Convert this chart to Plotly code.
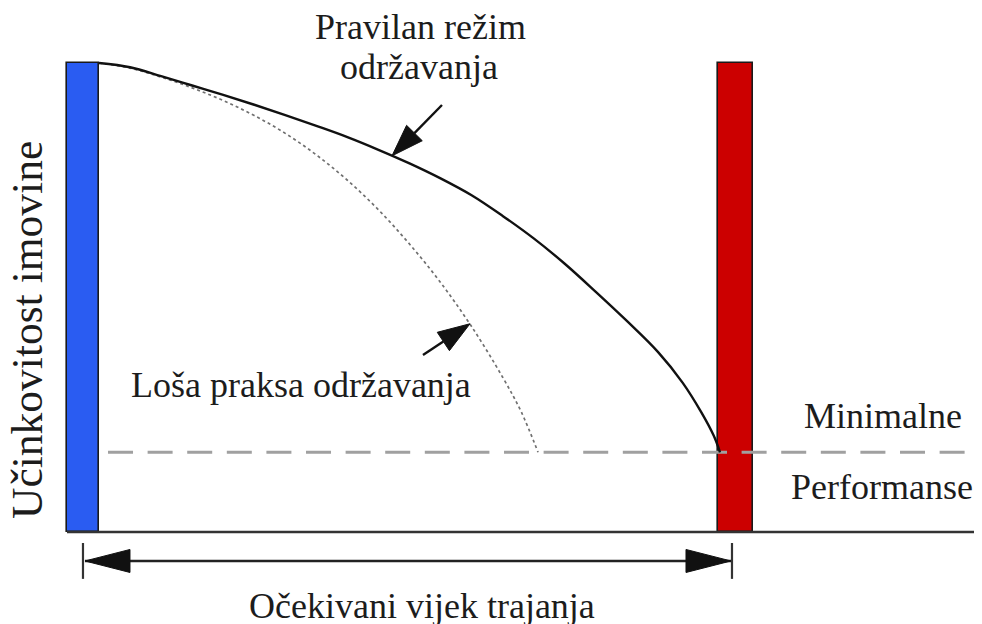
import math
import plotly.graph_objects as go

# ---------------- data (schematic units: time 0..100 = expected life, performance 0..100) ----------
good_t = [0, 5, 10, 15, 20, 25, 30, 35, 40, 45, 50, 55, 60, 65, 70, 75, 80, 85, 90, 94, 97, 99, 100]
good_p = [100, 99.1, 97.2, 95.2, 93.2, 91.1, 88.9, 86.6, 84.2, 81.5, 78.6, 75.4, 71.8,
          67.4, 62.6, 57.2, 51.2, 45.0, 38.4, 31.8, 25.5, 20.5, 17.0]

poor_t = [0, 5, 10, 15, 20, 25, 30, 35, 40, 45, 50, 55, 60, 65, 68, 70.7]
poor_p = [100, 98.9, 97.0, 94.7, 92.0, 88.8, 85.0, 80.4, 75.0, 68.7, 61.4, 53.2, 43.8, 33.0, 25.6, 17.0]

bar_x = [-2.58, 102.5]          # start of life (blue), end of life (red)
bar_w = [5.15, 5.6]
bar_h = [100, 100]
bar_colors = ["#2a5cf2", "#cc0000"]

min_perf = 17.0
life_start, life_end = -2.58, 101.93   # dimension-line ticks
dim_p = -6.18

labels_text = ["Pravilan režim", "održavanja", "Loša praksa održavanja",
               "Minimalne", "Performanse", "Očekivani vijek trajanja"]
labels_t = [51.85, 51.53, 32.53, 126.25, 126.09, 52.01]
labels_p = [107.7, 99.2, 31.3, 24.7, 9.6, -15.8]

# annotation arrows: (tail_t, tail_p, tip_t, tip_p)
arrows = [(55.23, 91.04, 47.18, 80.2), (52.17, 37.74, 59.74, 44.4)]

# ---------------- layout geometry (page body has an 8px margin) ----------------
W, H = 974, 616
XR = [-14.654, 142.19]
YR = [-19.62, 111.73]
PXX = W / (XR[1] - XR[0])
PXY = H / (YR[1] - YR[0])

FONT = "Liberation Serif"
INK = "#111111"

fig = go.Figure()

# bars
fig.add_trace(go.Bar(x=bar_x, y=bar_h, width=bar_w, base=0,
                     marker=dict(color=bar_colors, line=dict(color="#1a1a1a", width=1.6)),
                     hoverinfo="skip", showlegend=False))

# baseline
fig.add_trace(go.Scatter(x=[bar_x[0] - bar_w[0] / 2, XR[1]], y=[0, 0], mode="lines",
                         line=dict(color="#333333", width=2.4), hoverinfo="skip", showlegend=False))

# min performance dashed line
fig.add_trace(go.Scatter(x=[1.45, XR[1]], y=[min_perf, min_perf], mode="lines",
                         line=dict(color="#a0a0a0", width=3.2, dash="25px,14.6px"),
                         hoverinfo="skip", showlegend=False))

# curves
fig.add_trace(go.Scatter(x=poor_t, y=poor_p, mode="lines", line_shape="spline",
                         line=dict(color="#707070", width=1.7, dash="dot"),
                         hoverinfo="skip", showlegend=False))
fig.add_trace(go.Scatter(x=good_t, y=good_p, mode="lines", line_shape="spline",
                         line=dict(color=INK, width=2.4),
                         hoverinfo="skip", showlegend=False))


def head(tip_t, tip_p, from_t, from_p, length, half):
    # triangle in data coords, sized in pixels
    dx = (tip_t - from_t) * PXX
    dy = (tip_p - from_p) * PXY
    n = math.hypot(dx, dy)
    ux, uy = dx / n, dy / n
    bx, by = -ux * length, -uy * length
    px_, py_ = -uy * half, ux * half
    pts = [(0, 0), (bx + px_, by + py_), (bx - px_, by - py_), (0, 0)]
    xs = [tip_t + a / PXX for a, b in pts]
    ys = [tip_p + b / PXY for a, b in pts]
    return xs, ys, (tip_t + bx / PXX, tip_p + by / PXY)


def add_arrow(tail_t, tail_p, tip_t, tip_p, length, half, width):
    xs, ys, base = head(tip_t, tip_p, tail_t, tail_p, length, half)
    fig.add_trace(go.Scatter(x=[tail_t, base[0]], y=[tail_p, base[1]], mode="lines",
                             line=dict(color=INK, width=width), hoverinfo="skip", showlegend=False))
    fig.add_trace(go.Scatter(x=xs, y=ys, mode="lines", fill="toself", fillcolor=INK,
                             line=dict(color=INK, width=1), hoverinfo="skip", showlegend=False))


for a in arrows:
    add_arrow(*a, length=32, half=11, width=2.4)

# dimension line (expected life)
mid = (life_start + life_end) / 2
tipL = life_start + 2 / PXX
tipR = life_end - 1 / PXX
fig.add_trace(go.Scatter(x=[tipL, tipR], y=[dim_p, dim_p], mode="lines",
                         line=dict(color="#222222", width=2.4), hoverinfo="skip", showlegend=False))
for tip in (tipL, tipR):
    xs, ys, _ = head(tip, dim_p, mid, dim_p, 45, 11.5)
    fig.add_trace(go.Scatter(x=xs, y=ys, mode="lines", fill="toself", fillcolor=INK,
                             line=dict(color=INK, width=1), hoverinfo="skip", showlegend=False))
for tk in (life_start, life_end):
    fig.add_trace(go.Scatter(x=[tk, tk], y=[-2.35, -10.0], mode="lines",
                             line=dict(color="#333333", width=2.2), hoverinfo="skip", showlegend=False))

# text
for txt, t, p in zip(labels_text, labels_t, labels_p):
    fig.add_annotation(x=t, y=p, text=txt, showarrow=False, xanchor="center", yanchor="middle",
                       font=dict(family=FONT, size=36, color="#1c1c1c"))
fig.add_annotation(x=-11.6, y=43.07, text="Učinkovitost imovine", showarrow=False,
                   textangle=-90, xanchor="center", yanchor="middle",
                   font=dict(family=FONT, size=43.5, color="#1c1c1c"))

fig.update_layout(
    width=W, height=H, margin=dict(l=0, r=0, t=0, b=0),
    paper_bgcolor="white", plot_bgcolor="white",
    xaxis=dict(range=XR, visible=False, fixedrange=True),
    yaxis=dict(range=YR, visible=False, fixedrange=True),
    bargap=0, showlegend=False,
)

fig.write_html("out.html")
